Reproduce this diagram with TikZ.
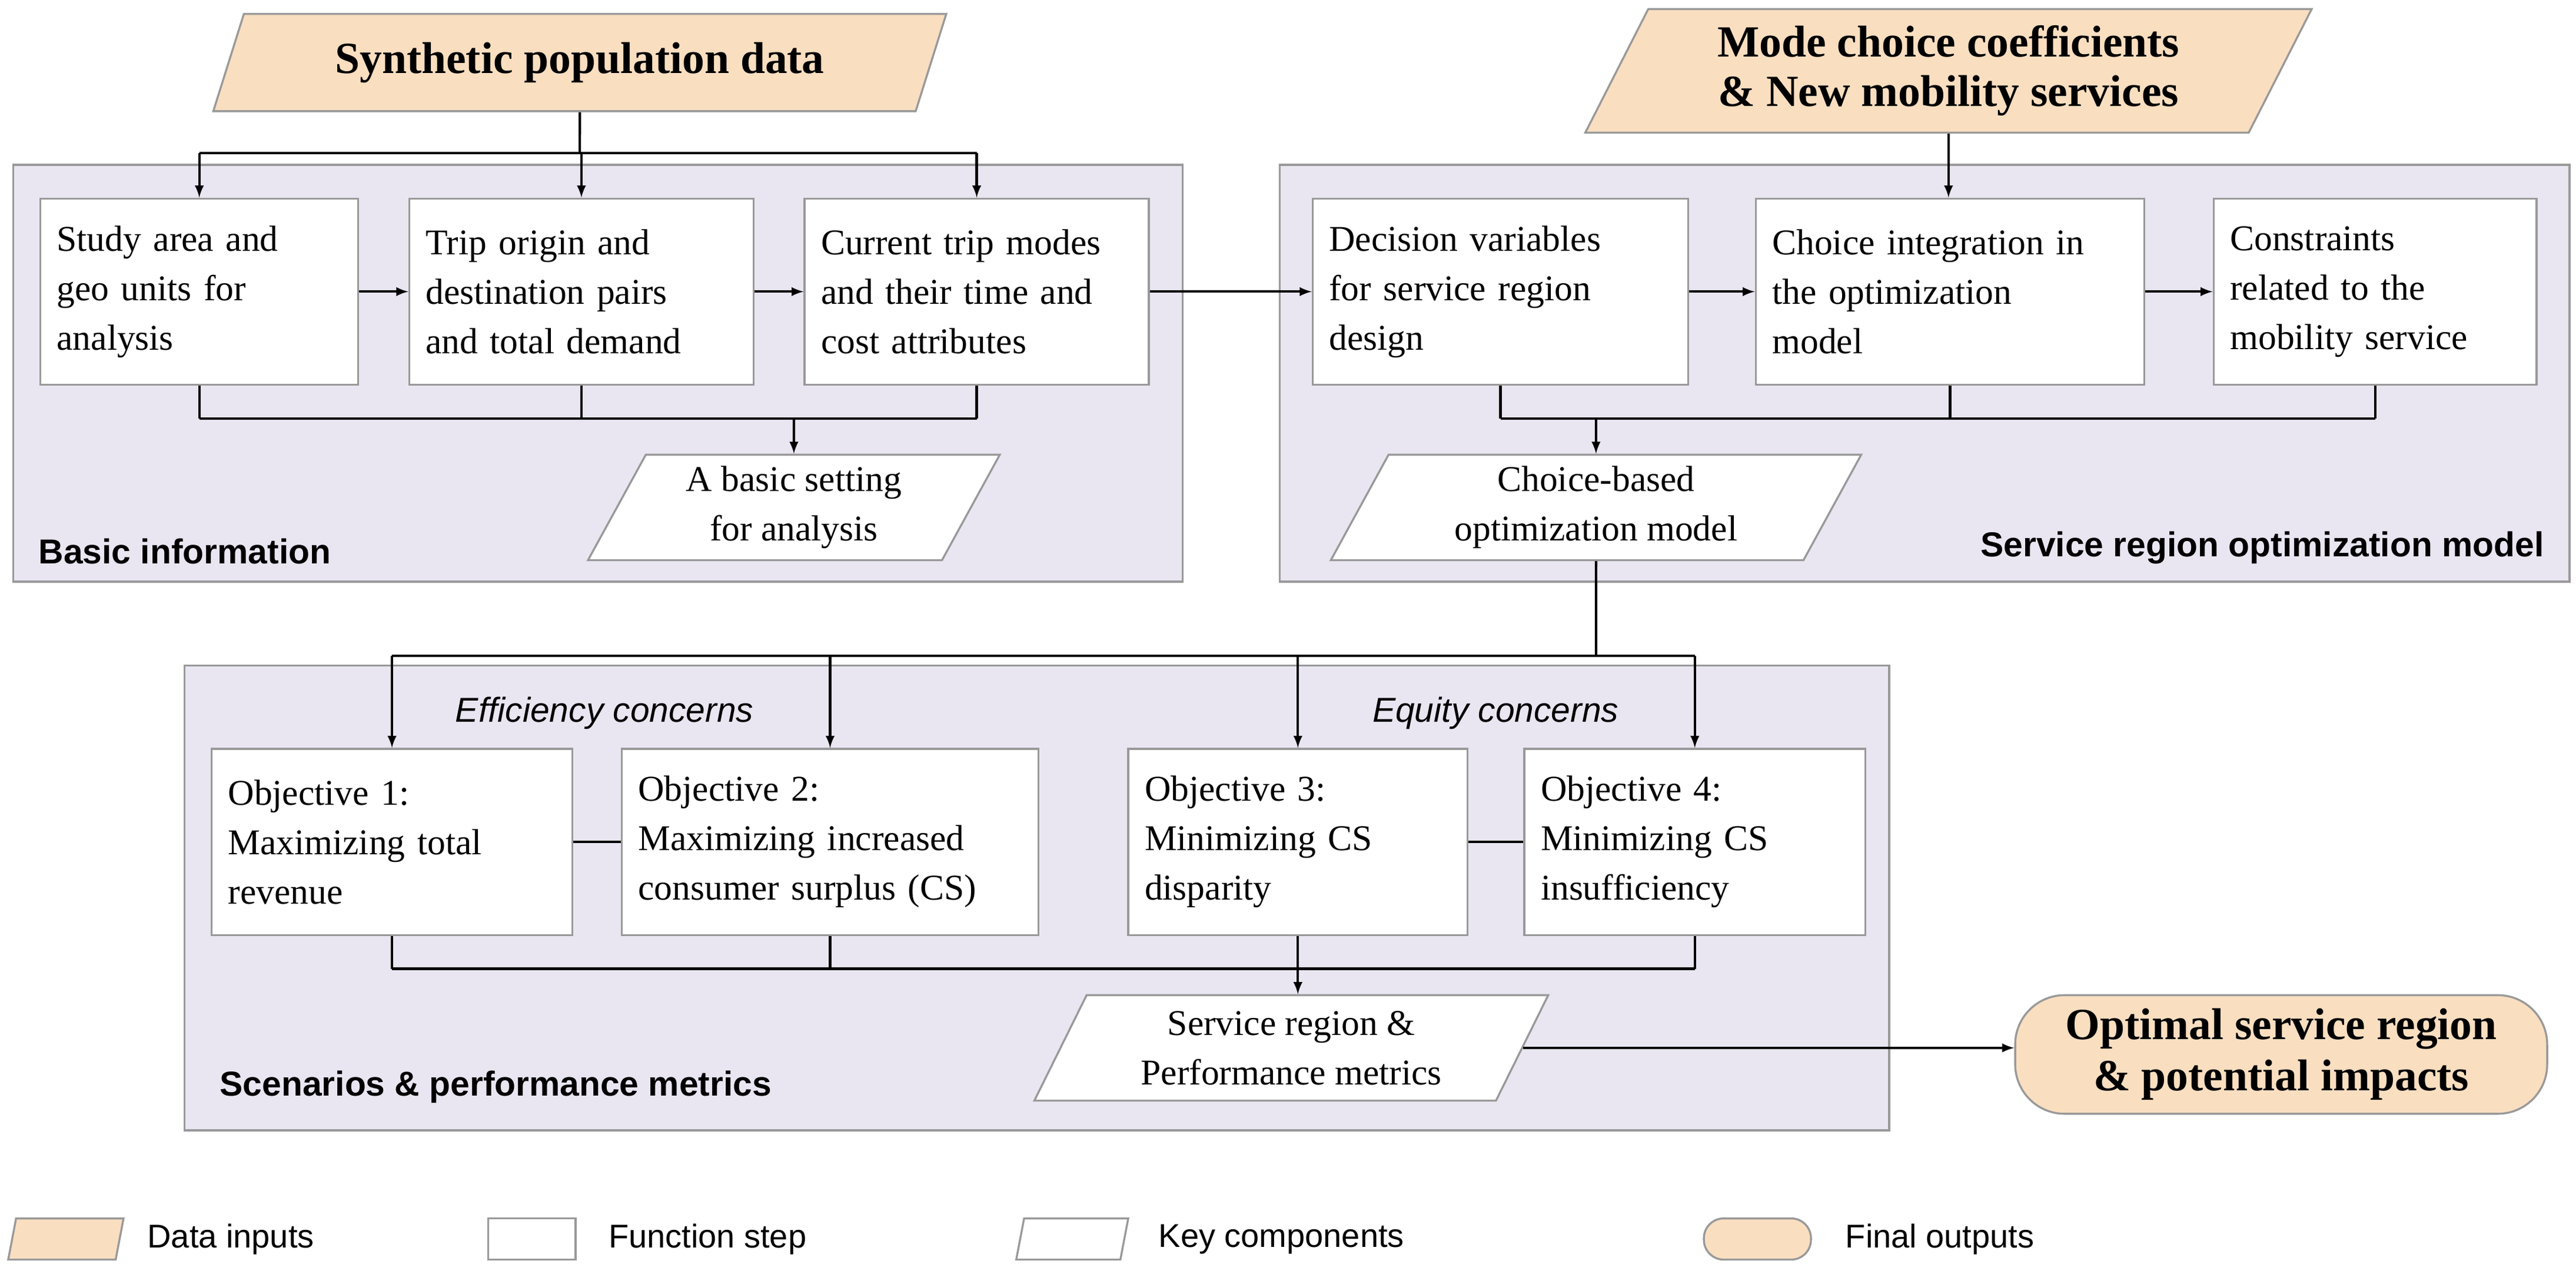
\documentclass[tikz,border=0pt]{standalone}
\usepackage{fontspec}
\setmainfont{Liberation Serif}
\newfontfamily\sansf{Liberation Sans}
\usetikzlibrary{shapes.geometric}
\definecolor{peach}{HTML}{F9DEC0}
\definecolor{lav}{HTML}{E9E6F2}
\tikzset{
  grp/.style={draw=gray!80, fill=lav, line width=1.2pt},
  step/.style={draw=gray!80, fill=white, line width=1.2pt, align=left, text width=#1, inner sep=10pt, minimum height=113pt},
  para/.style={trapezium, trapezium left angle=57, trapezium right angle=123, trapezium stretches body, draw=gray!80, line width=1.2pt, align=center, inner sep=2pt},
  key/.style={para, fill=white, minimum width=#1, minimum height=64pt},
  data/.style={para, fill=peach, font=\fontsize{27}{30}\selectfont\bfseries, minimum width=#1},
  final/.style={draw=gray!80, fill=peach, line width=1.2pt, rounded corners=30pt, align=center, font=\fontsize{27}{31}\selectfont\bfseries},
  glabel/.style={font=\sansf\fontsize{21}{24}\selectfont\bfseries},
  conn/.style={line width=1.5pt},
  arr/.style={conn, -latex},
}
\begin{document}
\begin{tikzpicture}[x=1pt, y=-1pt, font=\fontsize{22}{30}\selectfont]
\useasboundingbox (0,0) rectangle (1564,779);

% group panels
\draw[grp] (8,100) rectangle (718,353);
\draw[grp] (777,100) rectangle (1560,353);
\draw[grp] (112,404) rectangle (1147,686);
\node[glabel, anchor=south west] (gl1) at (20,346) {Basic information};
\node[glabel, anchor=south east] (gl2) at (1548,346) {Service region optimization model};
\node[glabel, anchor=south west] (gl3) at (130,673) {Scenarios \& performance metrics};

% inputs
\node[data=445pt, minimum height=59pt] (pop) at (352,38) {Synthetic population data};
\node[data=441pt, minimum height=75pt] (mode) at (1183,43) {Mode choice coefficients\\\& New mobility services};

% basic information
\node[step=173pt] (s1) at (121,177) {Study area and\\geo units for\\analysis};
\node[step=189pt] (s2) at (353,177) {Trip origin and\\destination pairs\\and total demand};
\node[step=189pt] (s3) at (593,177) {Current trip modes\\and their time and\\cost attributes};
\node[key=250pt] (k1) at (482,308) {A basic setting\\for analysis};

% optimization model
\node[step=208pt] (m1) at (911,177) {Decision variables\\for service region\\design};
\node[step=216pt] (m2) at (1184,177) {Choice integration in\\the optimization\\model};
\node[step=176pt] (m3) at (1442,177) {Constraints\\related to the\\mobility service};
\node[key=322pt] (k2) at (969,308) {Choice-based\\optimization model};

% scenarios
\node[font=\sansf\fontsize{21}{24}\selectfont\itshape] (eff) at (367,433) {Efficiency concerns};
\node[font=\sansf\fontsize{21}{24}\selectfont\itshape] (equ) at (908,433) {Equity concerns};
\node[step=199pt] (o1) at (238,511) {Objective 1:\\Maximizing total\\revenue};
\node[step=233pt] (o2) at (504,511) {Objective 2:\\Maximizing increased\\consumer surplus (CS)};
\node[step=186pt] (o3) at (788,511) {Objective 3:\\Minimizing CS\\disparity};
\node[step=187pt] (o4) at (1029,511) {Objective 4:\\Minimizing CS\\insufficiency};
\node[key=312pt] (k3) at (784,636) {Service region \&\\Performance metrics};
\node[final, minimum width=323pt, minimum height=72pt] (out) at (1385,640) {Optimal service region\\\& potential impacts};

% connectors: basic information
\coordinate (j1) at (352,93);
\draw[conn] (pop.south) -- (j1);
\draw[conn] (s1.north |- j1) -- (s3.north |- j1);
\foreach \n in {s1,s2,s3}{
\draw[arr] (\n.north |- j1) -- (\n.north);
}
\draw[arr] (s1) -- (s2);
\draw[arr] (s2) -- (s3);
\coordinate (j2) at (482,254);
\foreach \n in {s1,s2,s3}{
\draw[conn] (\n.south) -- (\n.south |- j2);
}
\draw[conn] (s1.south |- j2) -- (s3.south |- j2);
\draw[arr] (j2) -- (k1.north);
\draw[arr] (s3.east) -- (m1.west);

% connectors: optimization model
\draw[arr] (mode.south) -- (mode.south |- m2.north);
\draw[arr] (m1) -- (m2);
\draw[arr] (m2) -- (m3);
\coordinate (j3) at (969,254);
\foreach \n in {m1,m2,m3}{
\draw[conn] (\n.south) -- (\n.south |- j3);
}
\draw[conn] (m1.south |- j3) -- (m3.south |- j3);
\draw[arr] (j3) -- (k2.north);

% connectors: scenarios
\coordinate (j4) at (969,398);
\draw[conn] (k2.south) -- (j4);
\draw[conn] (o1.north |- j4) -- (o4.north |- j4);
\foreach \n in {o1,o2,o3,o4}{
\draw[arr] (\n.north |- j4) -- (\n.north);
}
\draw[conn] (o1) -- (o2);
\draw[conn] (o3) -- (o4);
\coordinate (j5) at (788,588);
\foreach \n in {o1,o2,o3,o4}{
\draw[conn] (\n.south) -- (\n.south |- j5);
}
\draw[conn] (o1.south |- j5) -- (o4.south |- j5);
\draw[arr] (j5) -- (j5 |- k3.north);
\draw[arr] (k3.east) -- (k3.east -| out.west);

% legend
\begin{scope}[font=\sansf\fontsize{20}{24}\selectfont]
\node[para, trapezium left angle=40, trapezium right angle=140, fill=peach, minimum width=70pt, minimum height=25pt] (l1) at (40,752) {};
\node[anchor=west] (t1) at (86,752) {Data inputs};
\node[draw=gray!80, line width=1.2pt, minimum width=53pt, minimum height=25pt] (l2) at (323,752) {};
\node[anchor=west] (t2) at (366,752) {Function step};
\node[para, trapezium left angle=40, trapezium right angle=140, fill=white, minimum width=68pt, minimum height=25pt] (l3) at (651,752) {};
\node[anchor=west] (t3) at (700,752) {Key components};
\node[draw=gray!80, fill=peach, line width=1.2pt, rounded corners=12pt, minimum width=65pt, minimum height=25pt] (l4) at (1067,752) {};
\node[anchor=west] (t4) at (1117,752) {Final outputs};
\end{scope}
\end{tikzpicture}
\end{document}
